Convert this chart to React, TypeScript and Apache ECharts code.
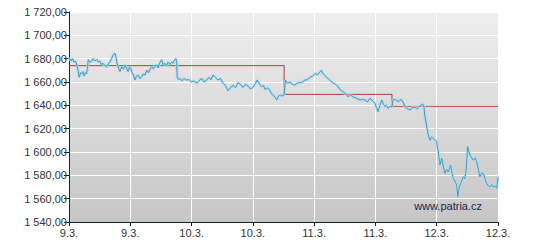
import React, { useEffect, useRef } from "react";
import * as echarts from "echarts";

const tickLabels = ["9.3.", "9.3.", "10.3.", "10.3.", "11.3.", "11.3.", "12.3.", "12.3."];

const priceTimes = [
  0, 3.3, 5.7, 8.2, 10.6, 13, 14.7, 16.8, 18.8, 20.7, 22.8, 24.5, 26.9, 28.9, 30.2, 31.5, 34.3, 37, 39.2, 42.4,
  45.2, 48.1, 50.6, 53, 55.5, 58.7, 61.5, 64.4, 66.9, 69.3, 71.8, 75, 76.7, 78.3, 80.8, 83.2, 86, 88.9, 91.4, 93.8,
  96.3, 98.7, 100.7, 102.8, 105.2, 107.7, 110.1, 112.6, 115.8, 118.6, 120.8, 124, 126.8, 129.7, 132.2, 135, 137.9,
  140.3, 143.1, 145.3, 148.5, 151.3, 153.4, 156.6, 159.1, 161.5, 164.8, 167.2, 169.7, 172.2, 174.6, 175.7, 176.5,
  178.7, 181.1, 184.4, 187.6, 192, 195.8, 200.2, 203.9, 208.4, 212.1, 216.5, 220.3, 224.7, 228.4, 231.7, 234.9,
  239, 243.1, 247.2, 251.3, 255.3, 259.4, 263.5, 267.6, 271.7, 275.7, 279.8, 283.9, 288, 292, 296.1, 300.2, 303.5,
  306.8, 310, 314.4, 317.4, 319.8, 323.9, 328, 330.4, 332.8, 336.1, 338.9, 341.8, 344.3, 347.5, 350.8, 352, 353.2,
  356.5, 360.6, 364.7, 368.7, 372.8, 376.9, 381, 385.1, 389.1, 393.2, 397.3, 401.4, 405.5, 409.5, 412, 414.4,
  418.5, 422.6, 426.7, 430.7, 434.8, 438.9, 443, 447, 451.1, 455.2, 459.3, 463.4, 469.1, 474.8, 478.9, 483, 487.1,
  491.1, 495.2, 499.3, 501.7, 504.2, 507.4, 510.2, 513.1, 515.6, 518, 520.5, 523.7, 527, 528.6, 532.7, 536.8,
  540.1, 542.8, 545.8, 548.2, 552.3, 556.4, 560.4, 564.5, 568.6, 572.7, 577.1, 579.2, 580.8, 582.5, 584.1, 586.2,
  589, 591.4, 593.9, 597.2, 599.9, 601.2, 602.6, 604, 605.3, 608.1, 610.7, 613.5, 616.2, 618.8, 622.8, 624.9, 627,
  629.8, 632.6, 634.2, 636.3, 638, 640.7, 643.3, 645.6, 647.7, 650.5, 652.6, 654.3, 657, 659.6, 662.4, 665.2,
  667.8, 670.6, 673.3, 676, 678.8, 681.5, 684.1, 686.9, 689.7, 692.3, 695.1, 697.9, 700,
];

const priceValues = [
  1681, 1678, 1680, 1677, 1678, 1674.6, 1670, 1664, 1668, 1667, 1669, 1665, 1668, 1667, 1673, 1679, 1677, 1678,
  1680, 1678, 1679.4, 1677, 1678, 1675, 1676, 1674, 1673, 1676, 1677, 1680, 1683, 1684.6, 1681, 1676, 1672, 1669,
  1673, 1671, 1674.6, 1672, 1669, 1673, 1672, 1668, 1666, 1661.7, 1665, 1666, 1663, 1664.6, 1667, 1666, 1670, 1668,
  1671, 1673, 1671, 1674, 1674.6, 1672, 1677, 1679, 1675, 1676, 1674, 1677, 1675, 1677, 1676, 1679, 1680, 1677,
  1664.6, 1662, 1663, 1661, 1663, 1661.7, 1662, 1660, 1661, 1659, 1661, 1663, 1660, 1661.7, 1664, 1662, 1666, 1664,
  1661.7, 1663, 1659, 1657, 1652.6, 1655, 1657.4, 1655, 1659.4, 1658, 1655.4, 1658, 1656.6, 1654, 1655.4, 1658,
  1661.7, 1659, 1656, 1657, 1653.7, 1655, 1652.6, 1650, 1648.9, 1647, 1644.6, 1648, 1649, 1648, 1649, 1655, 1661.7,
  1659, 1660, 1658, 1657.4, 1659, 1659.4, 1660, 1661.7, 1662, 1664, 1665, 1667.4, 1666, 1668.8, 1670, 1667, 1665,
  1663, 1661, 1659.4, 1658, 1656, 1653, 1651.7, 1650, 1647.4, 1649, 1647.4, 1646, 1644.6, 1645, 1644.6, 1643, 1646,
  1644, 1641.7, 1638, 1634.6, 1640, 1644.6, 1641, 1638.8, 1640, 1637.4, 1639, 1638.8, 1644.6, 1645, 1643, 1645,
  1644.6, 1642, 1638.8, 1637, 1636, 1638, 1638.3, 1637, 1639.4, 1641, 1638.8, 1630, 1626, 1620, 1614.6, 1610, 1613,
  1611.7, 1610, 1608.8, 1604, 1600, 1594, 1588.9, 1594.6, 1588, 1581.7, 1585, 1583, 1588.9, 1582, 1577.4, 1575,
  1571.7, 1561.7, 1568, 1571.7, 1575, 1578.8, 1577, 1583, 1604.6, 1600, 1597.4, 1595, 1593, 1595, 1591.7, 1585,
  1578.8, 1582, 1581.7, 1577, 1573, 1571, 1570, 1572, 1570, 1571, 1568.8, 1578.8,
];

const prevCloseTimes = [0, 351, 351, 527, 527, 700];
const prevCloseValues = [1674, 1674, 1649.4, 1649.4, 1639.2, 1639.2];

const fmt = (v: number) => {
  const [i, d] = v.toFixed(2).split(".");
  return i.replace(/\B(?=(\d{3})+(?!\d))/g, " ") + "," + d;
};

export default function App() {
  const ref = useRef<HTMLDivElement>(null);
  useEffect(() => {
    if (!ref.current) return;
    const chart = echarts.init(ref.current, undefined, { renderer: "svg" });
    const price = priceTimes.map((t, i) => [t, priceValues[i]]);
    const prev = prevCloseTimes.map((t, i) => [t, prevCloseValues[i]]);
    const font = "'Liberation Sans', Arial, sans-serif";
    chart.setOption({
      animation: false,
      backgroundColor: "#ffffff",
      grid: {
        left: 69,
        right: 37,
        top: 12,
        bottom: 27,
        show: true,
        borderWidth: 0,
        backgroundColor: new echarts.graphic.LinearGradient(0, 0, 0, 1, [
          { offset: 0, color: "#efefef" },
          { offset: 1, color: "#c6c6c6" },
        ]),
      },
      xAxis: {
        type: "value",
        min: 0,
        max: 700,
        interval: 100,
        axisLine: { show: true, lineStyle: { color: "#14223c", width: 1 } },
        axisTick: { show: true, length: 4, lineStyle: { color: "#14223c" } },
        splitLine: { show: true, lineStyle: { color: "#ffffff", width: 1 } },
        axisLabel: {
          color: "#333333",
          fontFamily: font,
          fontSize: 11,
          lineHeight: 11,
          margin: 5,
          formatter: (v: number) => tickLabels[Math.round(v / 100)] ?? "",
        },
      },
      yAxis: {
        type: "value",
        min: 1540,
        max: 1720,
        interval: 20,
        axisLine: { show: true, lineStyle: { color: "#14223c", width: 1 } },
        axisTick: { show: true, length: 5, lineStyle: { color: "#14223c" } },
        splitLine: { show: true, lineStyle: { color: "#ffffff", width: 1 } },
        axisLabel: {
          color: "#333333",
          fontFamily: font,
          fontSize: 11,
          lineHeight: 11,
          margin: 2,
          formatter: (v: number) => fmt(v),
        },
      },
      graphic: [
        {
          type: "text",
          right: 53,
          bottom: 38,
          style: { text: "www.patria.cz", fill: "#1c2a48", font: `11px ${font}` },
          z: 10,
        },
      ],
      series: [
        {
          type: "line",
          data: prev,
          showSymbol: false,
          symbol: "none",
          lineStyle: { color: "#b53a3a", width: 1 },
          z: 2,
        },
        {
          type: "line",
          data: price,
          showSymbol: false,
          symbol: "none",
          lineStyle: { color: "rgba(175,218,238,0.75)", width: 3 },
          z: 3,
        },
        {
          type: "line",
          data: price,
          showSymbol: false,
          symbol: "none",
          lineStyle: { color: "#4c9bbf", width: 1 },
          z: 4,
        },
      ],
    });
    return () => chart.dispose();
  }, []);
  return <div ref={ref} style={{ width: 535, height: 249, margin: -8 }} />;
}
